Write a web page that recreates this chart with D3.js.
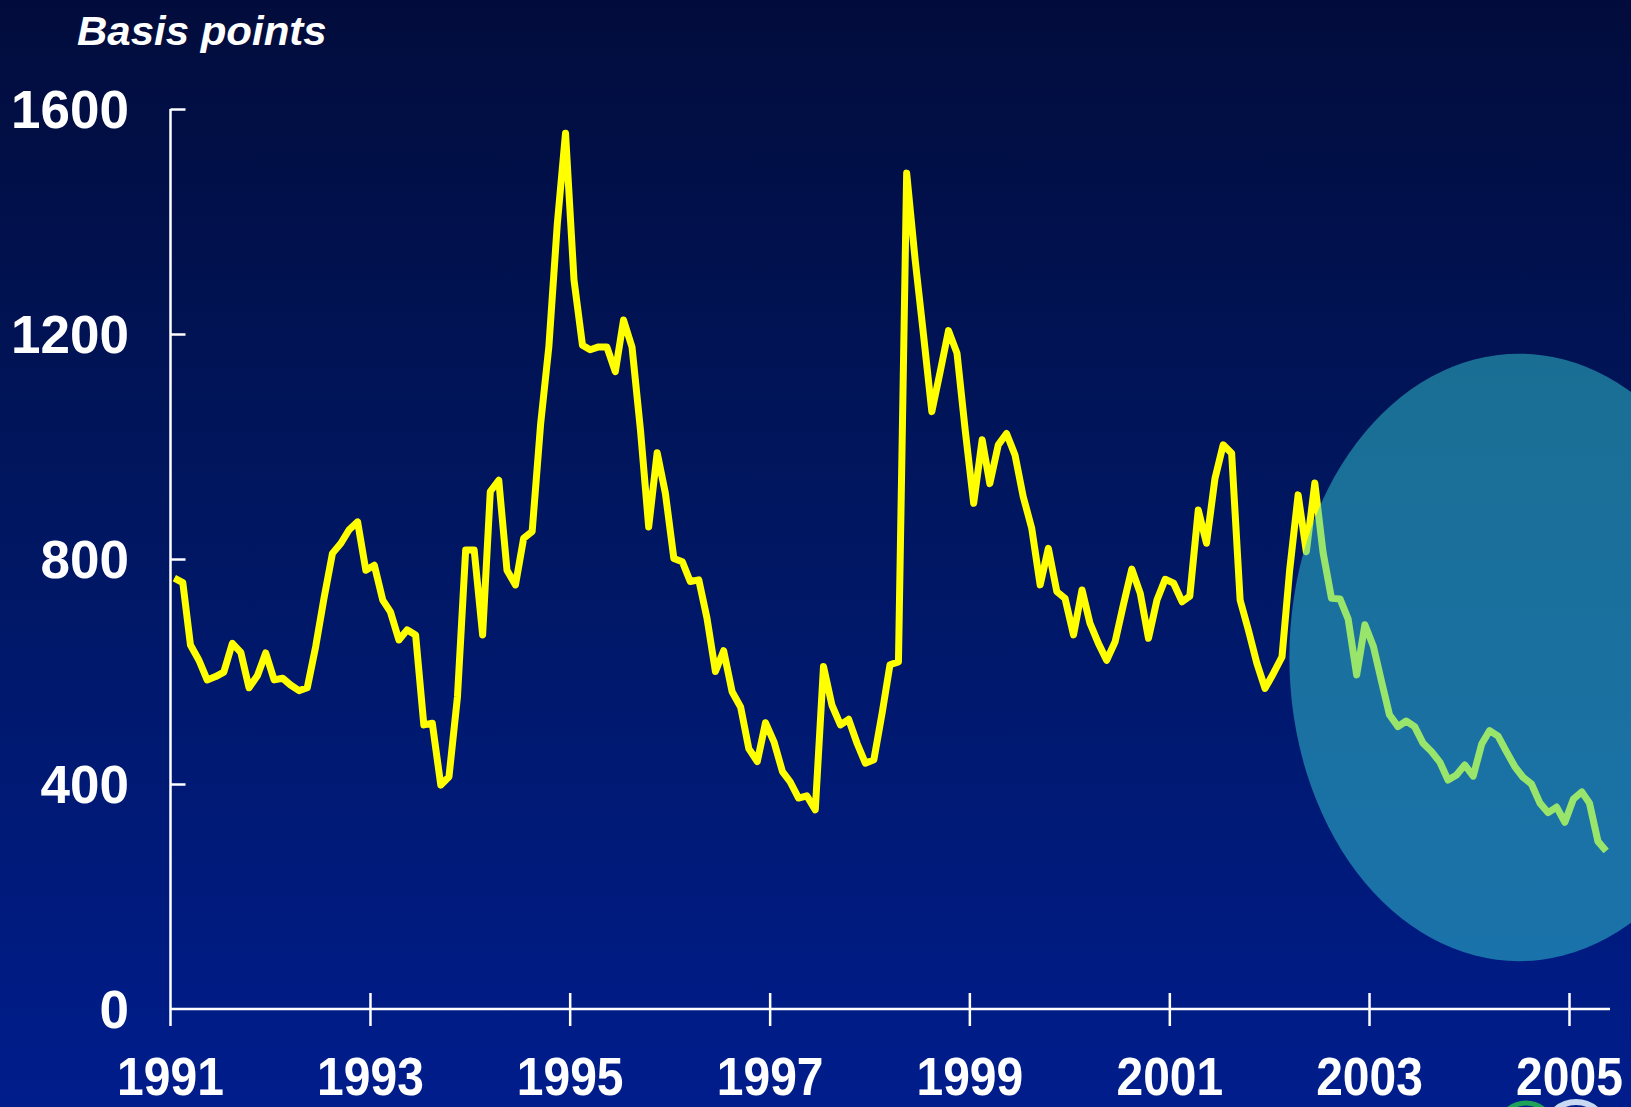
<!DOCTYPE html>
<html>
<head>
<meta charset="utf-8">
<script src="https://cdn.jsdelivr.net/npm/d3@7"></script>
<style>
  html, body { margin: 0; padding: 0; background: #020d3e; overflow: hidden; }
  svg { display: block; }
</style>
</head>
<body>
<svg id="chart" width="1631" height="1107"></svg>
<script>
// Monthly spread readings in basis points, starting January 1991
const seriesStart = "1991-01-15";
const spreadBp = [
  766, 758, 647, 620, 585, 591, 599, 650, 634, 571, 593, 633,
  585, 588, 576, 566, 571, 645, 730, 810, 828, 852, 866, 780,
  789, 727, 706, 656, 674, 665, 505, 508, 398, 413, 555, 816,
  816, 665, 920, 940, 780, 754, 837, 849, 1040, 1177, 1396, 1557,
  1296, 1180, 1172, 1177, 1177, 1133, 1225, 1177, 1029, 857, 989, 917,
  801, 795, 760, 763, 695, 600, 637, 564, 537, 463, 440, 509,
  475, 422, 404, 375, 379, 354, 609, 540, 505, 515, 472, 437,
  443, 528, 612, 617, 1486, 1332, 1201, 1062, 1134, 1206, 1166, 1029,
  899, 1012, 934, 1003, 1023, 985, 911, 855, 754, 819, 742, 730,
  665, 745, 686, 650, 620, 653, 718, 782, 739, 659, 727, 764,
  757, 724, 734, 887, 828, 943, 1003, 988, 727, 674, 615, 570,
  597, 626, 780, 914, 813, 935, 812, 730, 729, 693, 594, 683,
  645, 580, 523, 502, 512, 502, 473, 458, 439, 407, 416, 434,
  414, 471, 495, 485, 458, 431, 412, 400, 366, 349, 359, 332,
  373, 386, 366, 298, 281
];

const yearTicks = [1991, 1993, 1995, 1997, 1999, 2001, 2003, 2005];
const valueTicks = [0, 400, 800, 1200, 1600];
const axisTitle = "Basis points";

// Shaded oval marking the recent period (centre date/value, half extents)
const highlightCentre = "2004-07-01";
const highlightValue = 625;
const highlightHalfYears = 2.3;
const highlightHalfBp = 540;

const FONT = "'Liberation Sans', Arial, Helvetica, sans-serif";
const svg = d3.select("#chart");
const W = 1631, H = 1107;

// Background: deep navy fading to royal blue
const defs = svg.append("defs");
const bg = defs.append("linearGradient")
  .attr("id", "bg").attr("x1", 0).attr("y1", 0).attr("x2", 0).attr("y2", 1);
bg.append("stop").attr("offset", "0%").attr("stop-color", "#020c3c");
bg.append("stop").attr("offset", "45%").attr("stop-color", "#00165f");
bg.append("stop").attr("offset", "100%").attr("stop-color", "#001d8c");
svg.append("rect").attr("width", W).attr("height", H).attr("fill", "url(#bg)");

const parse = d3.utcParse("%Y-%m-%d");
const start = parse(seriesStart);
const data = spreadBp.map((v, i) => ({ date: d3.utcMonth.offset(start, i), value: v }));

const x = d3.scaleUtc()
  .domain([Date.UTC(1991, 0, 1), Date.UTC(2005, 0, 1)])
  .range([170.5, 1569.5]);
const y = d3.scaleLinear().domain([0, 1600]).range([1009, 109]);

// Y axis: ticks point inward, labels on the left
const yAxis = d3.axisLeft(y)
  .tickValues(valueTicks.filter(v => v > 0))
  .tickSize(-15)
  .tickSizeOuter(0)
  .tickFormat("");
const gy = svg.append("g").attr("transform", `translate(${x.range()[0]},0)`).call(yAxis);
gy.select(".domain").remove();
gy.selectAll(".tick line").attr("stroke", "#fff").attr("stroke-width", 2.5);

// Y axis line runs from the top tick down past the baseline
const xStart = x(Date.UTC(1991, 0, 1));
svg.append("line")
  .attr("x1", xStart).attr("x2", xStart)
  .attr("y1", y(1600)).attr("y2", y(0) + 17)
  .attr("stroke", "#fff").attr("stroke-width", 2.5);

svg.append("g").selectAll("text").data(valueTicks).join("text")
  .attr("x", 129)
  .attr("y", d => y(d) + 19)
  .attr("text-anchor", "end")
  .attr("font-family", FONT)
  .attr("font-weight", "bold")
  .attr("font-size", 53)
  .attr("fill", "#fff")
  .text(d => d);

// X axis baseline and crossing year ticks
const xEnd = x(Date.UTC(2005, 4, 29));
svg.append("line")
  .attr("x1", xStart).attr("x2", xEnd)
  .attr("y1", y(0)).attr("y2", y(0))
  .attr("stroke", "#fff").attr("stroke-width", 2.5);

const yearDate = yr => Date.UTC(yr, 0, 1);
svg.append("g").selectAll("line").data(yearTicks.slice(1)).join("line")
  .attr("x1", d => x(yearDate(d))).attr("x2", d => x(yearDate(d)))
  .attr("y1", y(0) - 16).attr("y2", y(0) + 17)
  .attr("stroke", "#fff").attr("stroke-width", 2.5);

// Decorative ring fragments at the bottom edge
svg.append("circle").attr("cx", 1526).attr("cy", 1131).attr("r", 28)
  .attr("fill", "none").attr("stroke", "#1fa356").attr("stroke-width", 5);
svg.append("circle").attr("cx", 1576).attr("cy", 1133).attr("r", 31)
  .attr("fill", "none").attr("stroke", "#c9d9f2").attr("stroke-width", 6);

svg.append("g").selectAll("text").data(yearTicks).join("text")
  .attr("transform", d => `translate(${x(yearDate(d))},1095) scale(1,1.12)`)
  .attr("text-anchor", "middle")
  .attr("font-family", FONT)
  .attr("font-weight", "bold")
  .attr("font-size", 48)
  .attr("fill", "#fff")
  .text(d => d);

// Axis title
svg.append("text")
  .attr("transform", "translate(77,45) scale(1.05,1)")
  .attr("font-family", FONT)
  .attr("font-weight", "bold")
  .attr("font-style", "italic")
  .attr("font-size", 40)
  .attr("fill", "#fff")
  .text(axisTitle);

// Spread line
const line = d3.line().x(d => x(d.date)).y(d => y(d.value));
svg.append("path")
  .datum(data)
  .attr("d", line)
  .attr("fill", "none")
  .attr("stroke", "#ffff00")
  .attr("stroke-width", 7)
  .attr("stroke-linejoin", "round");

// Translucent oval laid over the latest stretch of the series
const hc = parse(highlightCentre);
const cx = x(hc);
const rx = x(d3.utcDay.offset(hc, Math.round(highlightHalfYears * 365.25))) - cx;
const cy = y(highlightValue);
const ry = y(highlightValue - highlightHalfBp) - cy;
svg.append("ellipse")
  .attr("cx", cx).attr("cy", cy).attr("rx", rx).attr("ry", ry)
  .attr("fill", "rgb(52,202,212)")
  .attr("fill-opacity", 0.5);
</script>
</body>
</html>
